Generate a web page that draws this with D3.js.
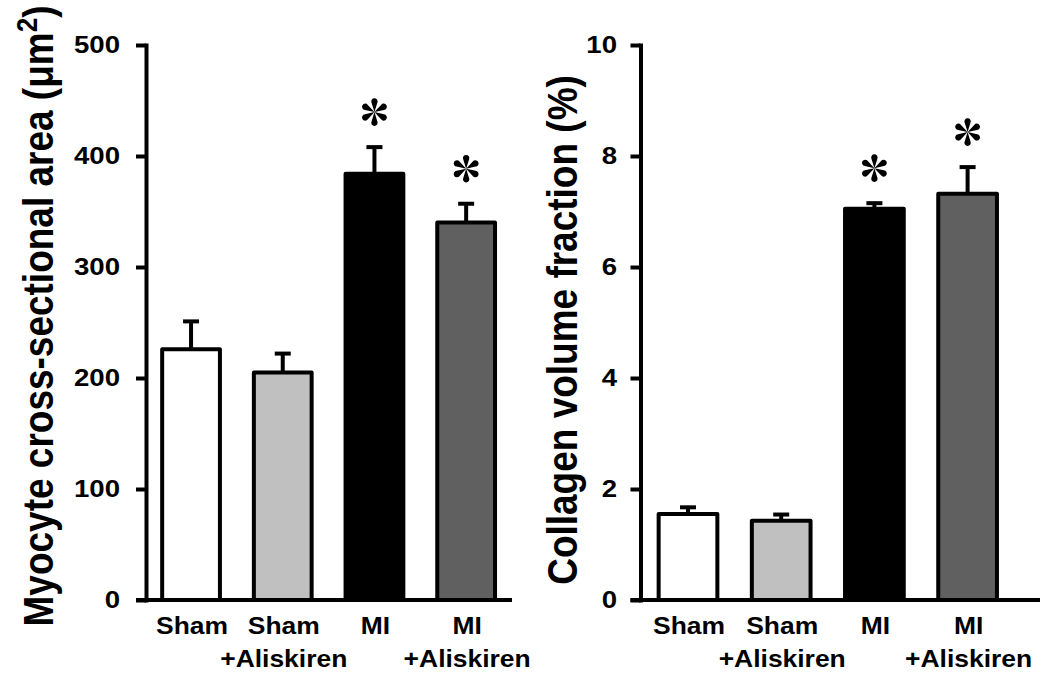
<!DOCTYPE html>
<html>
<head>
<meta charset="utf-8">
<script src="https://cdn.jsdelivr.net/npm/d3@7"></script>
<style>
body { margin: 0; background: #fff; }
text { font-family: "Liberation Sans", Arial, sans-serif; font-weight: bold; fill: #000; }
</style>
</head>
<body>
<svg id="chart" width="1046" height="673"></svg>
<script>
const groups = ['Sham', 'Sham+Aliskiren', 'MI', 'MI+Aliskiren'];
const groupLines = [['Sham'], ['Sham', '+Aliskiren'], ['MI'], ['MI', '+Aliskiren']];
const fills = ['#ffffff', '#c0c0c0', '#000000', '#606060'];

const areaMean = [226, 205, 384, 340];
const areaErr = [25, 17, 24, 17];
const areaStar = [false, false, true, true];
const areaTicks = [0, 100, 200, 300, 400, 500];

const cvfMean = [1.55, 1.43, 7.05, 7.32];
const cvfErr = [0.12, 0.11, 0.1, 0.48];
const cvfStar = [false, false, true, true];
const cvfTicks = [0, 2, 4, 6, 8, 10];

const svg = d3.select('#chart');
const yTop = 45, yBase = 600, stretch = 1.15;

// six teardrop petals
const petal = 'M0,0L-2.9,-9.3A3.2,3.2 0 1 1 2.9,-9.3Z';

const panel = opts => {
	let g = svg.append('g'),
		y = d3.scaleLinear().domain([0, opts.max]).range([yBase, yTop]),
		x = d3.scaleBand().domain(groups)
			.range([opts.x0, opts.x0 + 4 * opts.step])
			.paddingInner(0.37).paddingOuter(0.185);

	let rows = groups.map((k, i) => ({ key: k, mean: opts.mean[i], err: opts.err[i], star: opts.star[i], fill: fills[i], lines: groupLines[i] }));

	// error bars (upper only)
	let eb = g.selectAll('.eb').data(rows).enter().append('g')
		.attr('transform', d => 'translate(' + (x(d.key) + x.bandwidth() / 2) + ',0)');
	eb.append('line')
		.attr('y1', d => y(d.mean)).attr('y2', d => y(d.mean + d.err))
		.attr('stroke', '#000').attr('stroke-width', 4);
	eb.append('line')
		.attr('x1', -8).attr('x2', 8)
		.attr('y1', d => y(d.mean + d.err)).attr('y2', d => y(d.mean + d.err))
		.attr('stroke', '#000').attr('stroke-width', 4);

	g.selectAll('rect').data(rows).enter().append('rect')
		.attr('x', d => x(d.key))
		.attr('y', d => y(d.mean))
		.attr('width', x.bandwidth())
		.attr('height', d => yBase - y(d.mean))
		.attr('fill', d => d.fill)
		.attr('stroke', '#000').attr('stroke-width', 4)
		.attr('stroke-linejoin', 'round');

	// asterisks
	let stars = g.selectAll('.star').data(rows.filter(d => d.star)).enter().append('g')
		.attr('transform', d => 'translate(' + (x(d.key) + x.bandwidth() / 2) + ',' + (y(d.mean + d.err) - 35) + ')');
	stars.selectAll('path').data(d3.range(6)).enter().append('path')
		.attr('d', petal)
		.attr('transform', i => 'rotate(' + i * 60 + ')')
		.attr('fill', '#000');

	// x axis line
	g.append('line')
		.attr('x1', opts.axisX - 10).attr('x2', opts.xEnd)
		.attr('y1', yBase).attr('y2', yBase)
		.attr('stroke', '#000').attr('stroke-width', 4);

	// y axis
	let yAxis = g.append('g').attr('transform', 'translate(' + opts.axisX + ',0)')
		.call(d3.axisLeft(y).tickValues(opts.ticks).tickSize(10).tickSizeOuter(0));
	yAxis.attr('font-size', 24);
	yAxis.select('.domain').attr('stroke-width', 4).attr('stroke-linecap', 'square');
	yAxis.selectAll('.tick line').attr('stroke-width', 4);
	yAxis.selectAll('.tick text')
		.attr('x', null)
		.attr('transform', 'translate(' + (-opts.labelGap) + ',0) scale(' + stretch + ',1)');

	// category labels
	let lab = g.selectAll('.lab').data(rows).enter().append('text')
		.attr('text-anchor', 'middle').attr('font-size', 23)
		.attr('transform', d => 'translate(' + (x(d.key) + x.bandwidth() / 2 + 1) + ',634) scale(' + stretch + ',1)');
	lab.selectAll('tspan').data(d => d.lines).enter().append('tspan')
		.attr('x', 0).attr('dy', (d, i) => i ? 33 : 0)
		.text(d => d);

	// axis title
	let title = g.append('text')
		.attr('text-anchor', 'middle').attr('font-size', 37)
		.attr('transform', 'translate(' + opts.titleX + ',' + opts.titleY + ') scale(' + stretch + ',1) rotate(-90)');
	title.append('tspan').text(opts.title);
	if (opts.sup) {
		title.append('tspan').attr('font-size', 26).attr('dy', -14).text(opts.sup);
		title.append('tspan').attr('dy', 14).text(')');
	}
};

panel({
	max: 500, mean: areaMean, err: areaErr, star: areaStar, ticks: areaTicks,
	axisX: 146, x0: 145.2, step: 91.7, xEnd: 512, labelGap: 26,
	title: 'Myocyte cross-sectional area (\u03bcm', sup: '2',
	titleX: 53, titleY: 316
});

panel({
	max: 10, mean: cvfMean, err: cvfErr, star: cvfStar, ticks: cvfTicks,
	axisX: 640.5, x0: 641.4, step: 93.2, xEnd: 1040, labelGap: 23.5,
	title: 'Collagen volume fraction (%)',
	titleX: 577, titleY: 330
});
</script>
</body>
</html>
